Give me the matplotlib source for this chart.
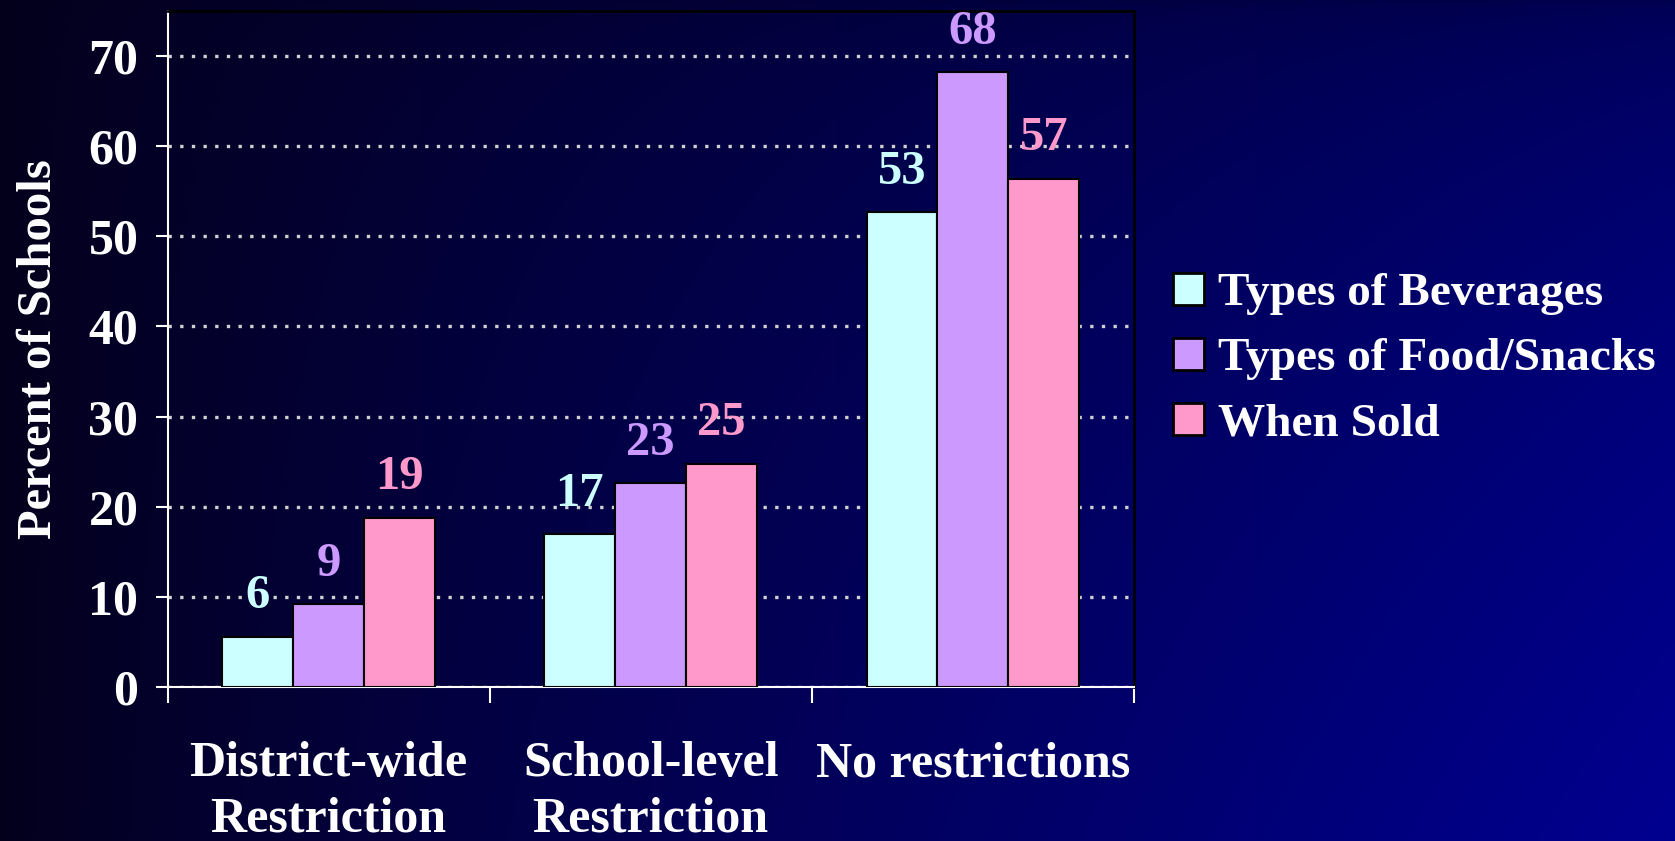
import numpy as np
import matplotlib
matplotlib.use("Agg")
import matplotlib.pyplot as plt
from matplotlib.patches import Patch

# data
categories = ["District-wide\nRestriction", "School-level\nRestriction", "No restrictions"]
series_names = ["Types of Beverages", "Types of Food/Snacks", "When Sold"]
# bar heights per series (one value per category)
beverages = [5.6, 17.0, 52.7]
food_snacks = [9.2, 22.6, 68.2]
when_sold = [18.8, 24.8, 56.4]
# labels printed above the bars
beverages_lbl = ["6", "17", "53"]
food_snacks_lbl = ["9", "23", "68"]
when_sold_lbl = ["19", "25", "57"]
yticks = [0, 10, 20, 30, 40, 50, 60, 70]

colors = ["#ccffff", "#cc99ff", "#ff99cc"]
serif = ["Liberation Serif", "DejaVu Serif"]
plt.rcParams["font.family"] = serif
plt.rcParams["font.weight"] = "bold"

fig = plt.figure(figsize=(16.75, 8.41), dpi=100)

# gradient background: dark on the left, blue towards the right and bottom
bg = fig.add_axes([0, 0, 1, 1], zorder=-10)
gx, gy = np.meshgrid(np.linspace(0, 1, 420), np.linspace(0, 1, 210))
blue = 28 + gx ** 0.85 * (52 + 64 * np.sqrt(gy))
red = 4 * (1 - gx)
img = np.dstack([red, np.zeros_like(gx), blue]) / 255.0
bg.imshow(np.clip(img, 0, 1), aspect="auto", extent=[0, 1, 0, 1], origin="upper")
bg.axis("off")

ax = fig.add_axes([0.100, 0.183, 0.577, 0.804])
ax.set_facecolor("none")

x = np.arange(len(categories)) + 0.5
w = 0.22
all_vals = [beverages, food_snacks, when_sold]
all_lbls = [beverages_lbl, food_snacks_lbl, when_sold_lbl]
for i, (vals, lbls) in enumerate(zip(all_vals, all_lbls)):
    xs = x + (i - 1) * w
    ax.bar(xs, vals, width=w, color=colors[i], edgecolor="black", linewidth=1.5, zorder=3,
           label=series_names[i])
    for xi, v, t in zip(xs, vals, lbls):
        ax.annotate(t, (xi, v), xytext=(0, 29), textcoords="offset points",
                    ha="center", va="center", color=colors[i], fontsize=35,
                    fontweight="bold", zorder=4)

ax.set_xlim(0, 3)
ax.set_ylim(0, 75)
ax.set_yticks(yticks)
ax.set_yticklabels([str(t) for t in yticks], fontsize=36, color="white", fontweight="bold")
ax.yaxis.grid(True, color="#d0d0d0", linestyle=(0, (1, 2.5)), linewidth=2.4, zorder=0)
ax.set_axisbelow(True)
ax.tick_params(axis="y", colors="white", length=9, width=1.5, pad=12, labelcolor="white")
ax.set_xticks([0, 1, 2, 3])
ax.set_xticklabels([])
ax.tick_params(axis="x", colors="white", length=11.5, width=1.5)

for s in ["left", "bottom"]:
    ax.spines[s].set_color("white")
    ax.spines[s].set_linewidth(1.5)
for s in ["top", "right"]:
    ax.spines[s].set_color("black")
    ax.spines[s].set_linewidth(2)

# category labels sit well below the axis, second line runs to the bottom edge
for xi, c in zip(x, categories):
    ax.annotate(c, (xi, 0), xycoords=("data", "axes fraction"), xytext=(0, -39),
                textcoords="offset points", ha="center", va="top", color="white",
                fontsize=36, fontweight="bold", linespacing=1.25)

ax.set_ylabel("Percent of Schools", fontsize=35, color="white", fontweight="bold", labelpad=20)

handles = [Patch(facecolor=c, edgecolor="black", linewidth=2) for c in colors]
fig.legend(handles, series_names, loc="center left", bbox_to_anchor=(0.700, 0.573),
           frameon=False, labelcolor="white", handlelength=0.66,
           handleheight=0.66, handletextpad=0.3, labelspacing=0.48, borderpad=0,
           borderaxespad=0, prop={"family": serif, "weight": "bold", "size": 34})

fig.savefig("out.png", dpi=100)
